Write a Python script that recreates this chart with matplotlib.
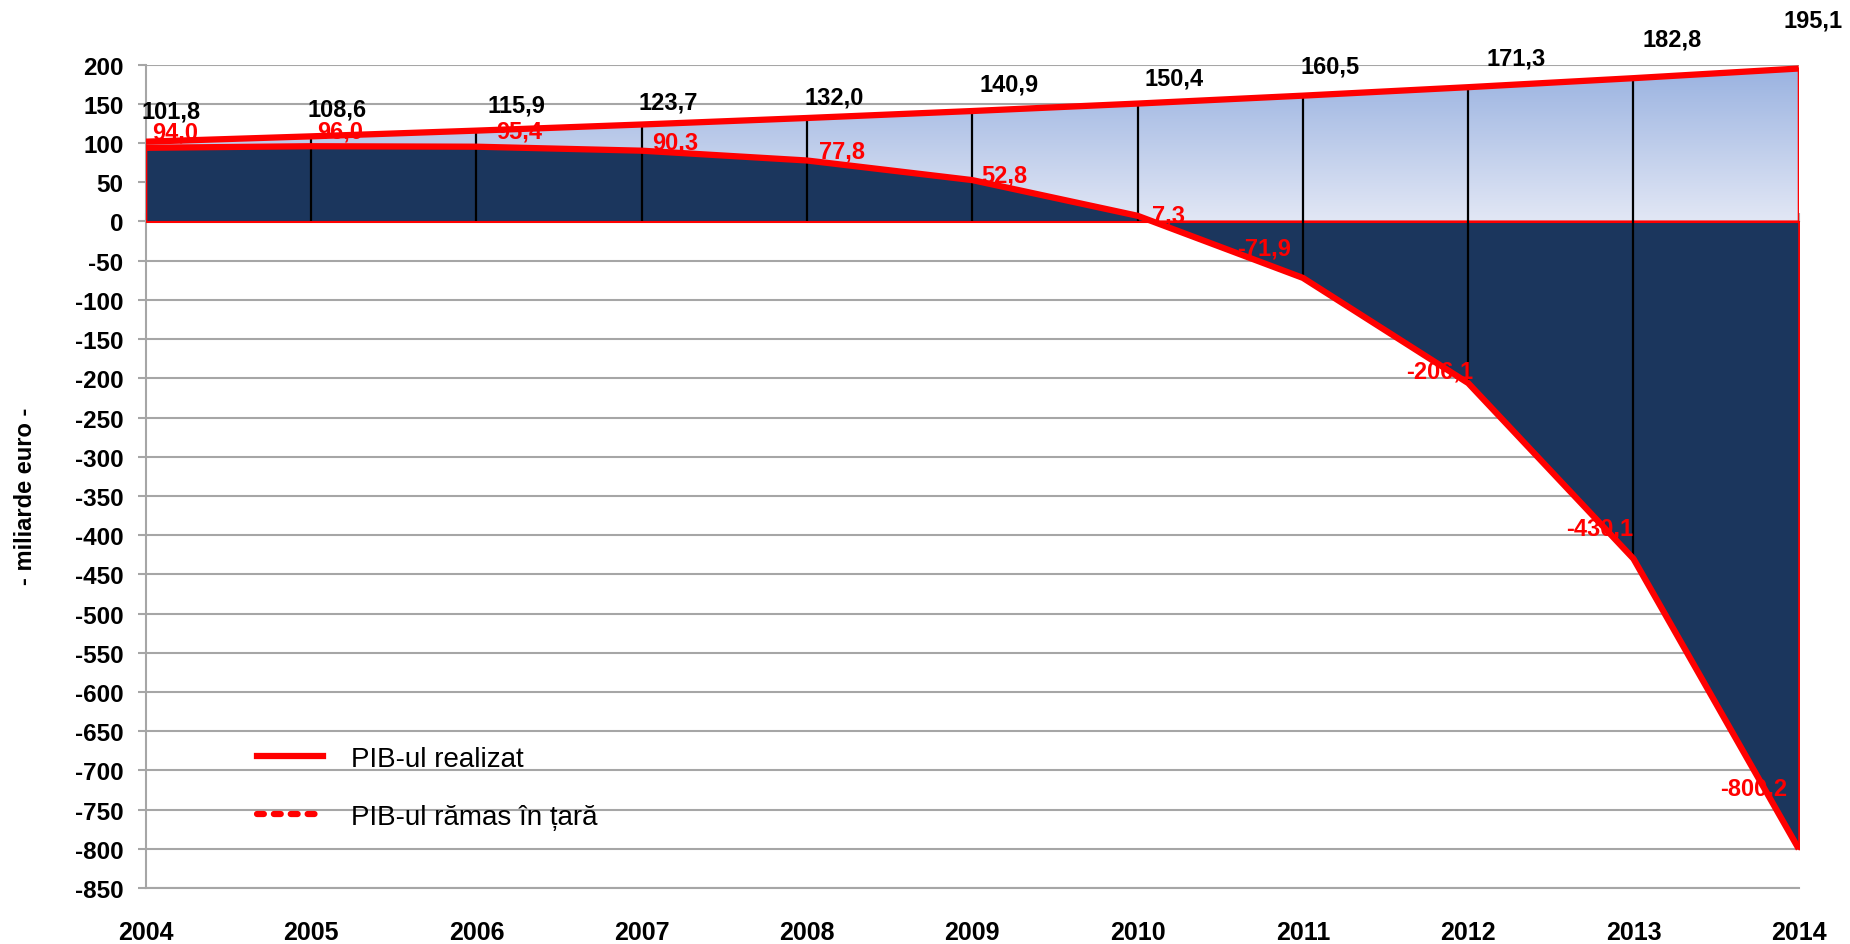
import numpy as np
import matplotlib
matplotlib.use('Agg')
import matplotlib.pyplot as plt
from matplotlib.lines import Line2D
from matplotlib.colors import LinearSegmentedColormap

plt.rcParams['font.family'] = ['Liberation Sans', 'DejaVu Sans']

# data
years = np.arange(2004, 2015)
pib_realizat = np.array([101.8, 108.6, 115.9, 123.7, 132.0, 140.9, 150.4, 160.5, 171.3, 182.8, 195.1])
pib_ramas = np.array([94.0, 96.0, 95.4, 90.3, 77.8, 52.8, 7.3, -71.9, -206.1, -430.1, -800.2])
labels_realizat = ['101,8', '108,6', '115,9', '123,7', '132,0', '140,9', '150,4', '160,5', '171,3', '182,8', '195,1']
labels_ramas = ['94,0', '96,0', '95,4', '90.3', '77,8', '52,8', '7,3', '-71,9', '-206,1', '-430,1', '-800,2']
legend_labels = ['PIB-ul realizat', 'PIB-ul rămas în țară']
y_ticks = np.arange(-850, 201, 50)

# label offsets in pixels (manually placed in the original)
off_realizat = [(25, 31), (26, 27), (40, 26), (27, 23), (27, 21), (37, 27), (36, 26), (27, 30), (48, 29), (39, 39), (14, 49)]
off_ramas = [(29, 16), (29, 15), (43, 16), (34, 8), (35, 9), (32, 5), (31, 1), (-39, 30), (-28, 12), (-34, 31), (-45, 61)]

RED = '#ff0000'
NAVY = '#1b365d'
GRID = '#a6a6a6'

fig = plt.figure(figsize=(18.5, 9.45), dpi=100)
ax = fig.add_axes([0.0788, 0.0593, 0.8935, 0.8712])
ymin, ymax = -850, 200

# upper area with vertical gradient
upper = ax.fill_between(years, 0, pib_realizat, facecolor='none', edgecolor=RED, lw=1.5, zorder=2)
cmap = LinearSegmentedColormap.from_list('grad', ['#e2e7f5', '#98b1e0'])
grad = np.linspace(0, 1, 256).reshape(-1, 1)
im = ax.imshow(grad, cmap=cmap, origin='lower', aspect='auto',
               extent=[years[0], years[-1], 0, 200], zorder=1)
im.set_clip_path(upper.get_paths()[0], transform=ax.transData)

# lower (navy) area
ax.fill_between(years, 0, pib_ramas, facecolor=NAVY, edgecolor=RED, lw=1.5, zorder=3)

# drop lines
ax.vlines(years[1:-1], np.minimum(pib_ramas[1:-1], 0), pib_realizat[1:-1], color='black', lw=1.6, zorder=4)

# red data labels (under the lines)
for x, y, t, (dx, dy) in zip(years, pib_ramas, labels_ramas, off_ramas):
    ax.annotate(t, (x, y), xytext=(dx, dy), textcoords='offset pixels', ha='center', va='center',
                color=RED, fontsize=17, fontweight='bold', zorder=4.5, annotation_clip=False)

# lines
ax.plot(years, pib_realizat, color=RED, lw=4.5, zorder=5, solid_capstyle='butt')
ax.plot(years, pib_ramas, color=RED, lw=4.5, zorder=5, solid_capstyle='butt')

for x, y, t, (dx, dy) in zip(years, pib_realizat, labels_realizat, off_realizat):
    ax.annotate(t, (x, y), xytext=(dx, dy), textcoords='offset pixels', ha='center', va='center',
                color='black', fontsize=17, fontweight='bold', zorder=6, annotation_clip=False)

# axes styling
ax.set_xlim(years[0], years[-1])
ax.set_ylim(ymin, ymax)
ax.set_yticks(y_ticks)
ax.set_yticklabels([str(v) for v in y_ticks], fontsize=17.5, fontweight='bold')
ax.set_xticks(years)
ax.set_xticklabels([str(v) for v in years], fontsize=18, fontweight='bold')
ax.tick_params(axis='x', length=0, pad=23)
ax.tick_params(axis='y', length=6, color=GRID, width=1.5, pad=10)
ax.grid(axis='y', color=GRID, lw=1.5, zorder=0)
ax.set_axisbelow(True)
for s in ['top', 'right']:
    ax.spines[s].set_visible(False)
ax.spines['left'].set_color(GRID)
ax.spines['left'].set_linewidth(1.5)
ax.spines['bottom'].set_color(GRID)
ax.spines['bottom'].set_linewidth(1.5)

# category axis crossing at zero, with tick marks
secax = ax.secondary_xaxis((0 - ymin) / (ymax - ymin))
secax.set_xticks(np.arange(years[0], years[-1] + 0.01, 0.5))
secax.set_xticklabels([])
secax.tick_params(direction='out', length=6, color=GRID, width=1.5)
secax.spines['bottom'].set_color(GRID)
secax.spines['bottom'].set_linewidth(1.5)

ax.set_ylabel('- miliarde euro -', fontsize=17, fontweight='bold')
ax.yaxis.set_label_coords(-0.066, 0.477)

handles = [Line2D([0], [0], color=RED, lw=4.5),
           Line2D([0], [0], color=RED, lw=4.5, ls=(0, (1.1, 1.6)), dash_capstyle='round')]
ax.legend(handles, legend_labels, loc='lower left', bbox_to_anchor=(0.052, 0.04), frameon=False,
          fontsize=20, handlelength=2.4, labelspacing=1.15, handletextpad=1.0)

plt.savefig('out.png', dpi=100)
